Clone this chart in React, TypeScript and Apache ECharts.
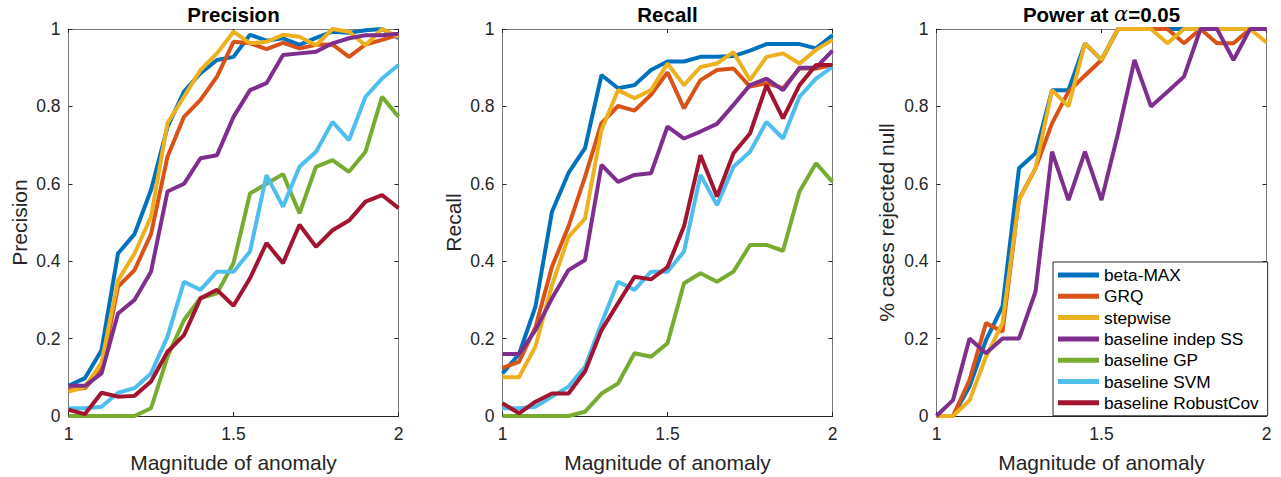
import React, { useEffect, useRef } from 'react';
import * as echarts from 'echarts';

const magnitudes = [1, 1.05, 1.1, 1.15, 1.2, 1.25, 1.3, 1.35, 1.4, 1.45, 1.5, 1.55, 1.6, 1.65, 1.7, 1.75, 1.8, 1.85, 1.9, 1.95, 2];

const seriesNames = ['beta-MAX', 'GRQ', 'stepwise', 'baseline indep SS', 'baseline GP', 'baseline SVM', 'baseline RobustCov'];
const seriesColors = ['#0072BD', '#D95319', '#EDB120', '#7E2F8E', '#77AC30', '#4DBEEE', '#A2142F'];

// Precision panel
const precBetaMax = [0.078, 0.098, 0.17, 0.42, 0.47, 0.584, 0.747, 0.838, 0.886, 0.92, 0.928, 0.985, 0.97, 0.976, 0.959, 0.977, 0.993, 0.99, 0.997, 1.0, 0.977];
const precGRQ = [0.067, 0.072, 0.12, 0.334, 0.377, 0.47, 0.67, 0.773, 0.817, 0.877, 0.967, 0.963, 0.948, 0.964, 0.95, 0.959, 0.96, 0.928, 0.96, 0.972, 0.985];
const precStepwise = [0.063, 0.075, 0.137, 0.35, 0.42, 0.515, 0.757, 0.825, 0.894, 0.937, 0.993, 0.963, 0.967, 0.985, 0.98, 0.958, 1.0, 0.993, 0.958, 1.0, 0.98];
const precIndepSS = [0.078, 0.078, 0.11, 0.265, 0.3, 0.373, 0.58, 0.6, 0.666, 0.674, 0.773, 0.842, 0.86, 0.933, 0.937, 0.941, 0.963, 0.976, 0.984, 0.984, 0.988];
const precGP = [0, 0, 0, 0, 0, 0.02, 0.153, 0.248, 0.305, 0.317, 0.395, 0.575, 0.6, 0.625, 0.524, 0.644, 0.661, 0.631, 0.683, 0.825, 0.773];
const precSVM = [0.02, 0.02, 0.024, 0.06, 0.072, 0.11, 0.205, 0.347, 0.326, 0.373, 0.373, 0.425, 0.622, 0.541, 0.644, 0.683, 0.76, 0.713, 0.825, 0.872, 0.907];
const precRobustCov = [0.016, 0.005, 0.06, 0.05, 0.052, 0.089, 0.166, 0.209, 0.304, 0.326, 0.285, 0.356, 0.447, 0.395, 0.494, 0.437, 0.48, 0.505, 0.554, 0.571, 0.537];

// Recall panel
const recBetaMax = [0.11, 0.16, 0.283, 0.528, 0.628, 0.692, 0.881, 0.847, 0.855, 0.894, 0.916, 0.916, 0.928, 0.928, 0.93, 0.944, 0.961, 0.961, 0.961, 0.95, 0.984];
const recGRQ = [0.124, 0.14, 0.23, 0.386, 0.49, 0.618, 0.757, 0.801, 0.789, 0.83, 0.888, 0.795, 0.868, 0.894, 0.898, 0.851, 0.86, 0.847, 0.898, 0.898, 0.907];
const recStepwise = [0.1, 0.1, 0.18, 0.338, 0.463, 0.51, 0.739, 0.842, 0.821, 0.842, 0.911, 0.855, 0.902, 0.911, 0.94, 0.868, 0.928, 0.937, 0.911, 0.946, 0.972];
const recIndepSS = [0.16, 0.16, 0.222, 0.304, 0.377, 0.403, 0.649, 0.605, 0.623, 0.627, 0.748, 0.717, 0.735, 0.755, 0.804, 0.855, 0.872, 0.842, 0.9, 0.9, 0.944];
const recGP = [0, 0, 0, 0, 0, 0.011, 0.058, 0.084, 0.162, 0.153, 0.188, 0.343, 0.369, 0.347, 0.373, 0.442, 0.442, 0.427, 0.58, 0.653, 0.605];
const recSVM = [0.02, 0.02, 0.024, 0.05, 0.076, 0.127, 0.24, 0.347, 0.326, 0.373, 0.373, 0.425, 0.623, 0.545, 0.644, 0.683, 0.76, 0.717, 0.825, 0.872, 0.902];
const recRobustCov = [0.033, 0.007, 0.037, 0.058, 0.058, 0.115, 0.222, 0.291, 0.36, 0.353, 0.385, 0.49, 0.674, 0.567, 0.679, 0.73, 0.855, 0.769, 0.855, 0.907, 0.907];

// Power panel
const powBetaMax = [0, 0, 0.076, 0.196, 0.283, 0.64, 0.679, 0.842, 0.842, 0.963, 0.92, 1, 1, 1, 1, 1, 1, 1, 1, 1, 1];
const powGRQ = [0, 0, 0.093, 0.24, 0.218, 0.56, 0.64, 0.756, 0.838, 0.88, 0.92, 1, 1, 1, 1, 0.963, 1, 0.963, 0.963, 1, 1];
const powStepwise = [0, 0, 0.04, 0.153, 0.24, 0.558, 0.64, 0.842, 0.8, 0.963, 0.92, 1, 1, 1, 0.963, 1, 1, 1, 1, 1, 0.965];
const powIndepSS = [0, 0.041, 0.2, 0.162, 0.2, 0.2, 0.321, 0.683, 0.558, 0.683, 0.558, 0.73, 0.92, 0.8, 0.838, 0.877, 1, 1, 0.92, 1, 1];

const panelTitles = ['Precision', 'Recall', 'Power at α=0.05'];
const yLabels = ['Precision', 'Recall', '% cases rejected null'];
const xLabel = 'Magnitude of anomaly';

const FONT = '"Liberation Sans", Arial, Helvetica, sans-serif';
const gridLefts = [68.5, 502.5, 936.5];
const gridTop = 29;
const gridW = 330;
const gridH = 387;

export default function App() {
  const ref = useRef<HTMLDivElement>(null);
  useEffect(() => {
    document.body.style.margin = '0';
    const chart = echarts.init(ref.current!, null, { renderer: 'svg' });

    const panels: number[][][] = [
      [precBetaMax, precGRQ, precStepwise, precIndepSS, precGP, precSVM, precRobustCov],
      [recBetaMax, recGRQ, recStepwise, recIndepSS, recGP, recSVM, recRobustCov],
      [powBetaMax, powGRQ, powStepwise, powIndepSS],
    ];

    const grids: any[] = [];
    const xAxes: any[] = [];
    const yAxes: any[] = [];
    const series: any[] = [];
    const graphics: any[] = [];

    panels.forEach((panel, g) => {
      grids.push({ left: gridLefts[g], top: gridTop, width: gridW, height: gridH, containLabel: false });
      const tick = { inside: true, length: 4, lineStyle: { color: '#262626', width: 1 } };
      xAxes.push({
        gridIndex: g, type: 'value', min: 1, max: 2, interval: 0.5, position: 'bottom',
        axisLine: { onZero: false, lineStyle: { color: '#262626', width: 1 } },
        axisTick: tick,
        axisLabel: { fontSize: 17.5, color: '#262626', margin: 9, fontFamily: FONT },
        splitLine: { show: false },
      });
      xAxes.push({
        gridIndex: g, type: 'value', min: 1, max: 2, interval: 0.5, position: 'top',
        axisLine: { onZero: false, lineStyle: { color: '#7a7a7a', width: 1 } },
        axisTick: tick,
        axisLabel: { show: false },
        splitLine: { show: false },
      });
      yAxes.push({
        gridIndex: g, type: 'value', min: 0, max: 1, interval: 0.2, position: 'left',
        axisLine: { onZero: false, lineStyle: { color: '#7a7a7a', width: 1 } },
        axisTick: tick,
        axisLabel: { fontSize: 17.5, color: '#262626', margin: 8, fontFamily: FONT },
        splitLine: { show: false },
      });
      yAxes.push({
        gridIndex: g, type: 'value', min: 0, max: 1, interval: 0.2, position: 'right',
        axisLine: { onZero: false, lineStyle: { color: '#7a7a7a', width: 1 } },
        axisTick: tick,
        axisLabel: { show: false },
        splitLine: { show: false },
      });
      panel.forEach((vals, s) => {
        series.push({
          name: seriesNames[s],
          type: 'line',
          xAxisIndex: g * 2,
          yAxisIndex: g * 2,
          data: magnitudes.map((x, i) => [x, vals[i]]),
          symbol: 'none',
          clip: false,
          color: seriesColors[s],
          lineStyle: { width: 4, color: seriesColors[s] },
          emphasis: { disabled: true },
        });
      });

      const cx = gridLefts[g] + gridW / 2;
      if (g < 2) {
        graphics.push({
          type: 'text', x: cx, y: 14,
          style: { text: panelTitles[g], fontSize: 20.5, fontWeight: 'bold', fontFamily: FONT, fill: '#000', align: 'center', verticalAlign: 'middle' },
        });
      } else {
        graphics.push({
          type: 'text', x: cx, y: 14,
          style: {
            text: '{b|Power at }{a|α}{b|=0.05}',
            align: 'center', verticalAlign: 'middle',
            rich: {
              b: { fontSize: 20.5, fontWeight: 'bold', fontFamily: FONT, fill: '#000' },
              a: { fontSize: 21, fontStyle: 'italic', fontFamily: '"DejaVu Serif", serif', fill: '#000' },
            },
          },
        });
      }
      graphics.push({
        type: 'text', x: cx, y: 462,
        style: { text: xLabel, fontSize: 21, fontFamily: FONT, fill: '#262626', align: 'center', verticalAlign: 'middle' },
      });
      const yLabX = [19, 453, 886][g];
      graphics.push({
        type: 'text', x: yLabX, y: gridTop + gridH / 2, rotation: Math.PI / 2,
        style: { text: yLabels[g], fontSize: 21, fontFamily: FONT, fill: '#262626', align: 'center', verticalAlign: 'middle' },
      });
    });

    chart.setOption({
      animation: false,
      backgroundColor: '#fff',
      grid: grids,
      xAxis: xAxes,
      yAxis: yAxes,
      series,
      legend: {
        orient: 'vertical',
        left: 1053,
        top: 262,
        icon: 'rect',
        itemWidth: 41,
        itemHeight: 5,
        itemGap: 4.3,
        padding: [4.5, 9, 4.5, 5],
        backgroundColor: '#fff',
        borderColor: '#262626',
        borderWidth: 1,
        selectedMode: false,
        textStyle: { fontSize: 17.3, color: '#000', fontFamily: FONT, lineHeight: 17 },
        data: seriesNames,
        z: 10,
      },
      graphic: graphics,
    });

    return () => chart.dispose();
  }, []);
  return <div ref={ref} style={{ width: 1281, height: 477 }} />;
}
